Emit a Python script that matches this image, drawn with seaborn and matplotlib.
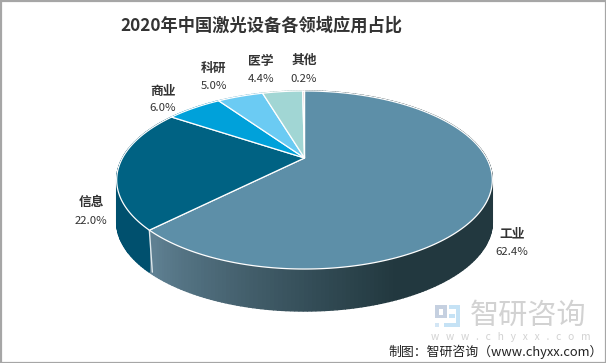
import numpy as np
import matplotlib
matplotlib.use("Agg")
import matplotlib.pyplot as plt
import seaborn as sns
from matplotlib.patches import Rectangle

categories = ["工业", "信息", "商业", "科研", "医学", "其他"]
values = [62.4, 22.0, 6.0, 5.0, 4.4, 0.2]
value_labels = ["62.4%", "22.0%", "6.0%", "5.0%", "4.4%", "0.2%"]
title = "2020年中国激光设备各领域应用占比"
source = "制图：智研咨询（www.chyxx.com）"
top_colors = ["#5d8fa8", "#006283", "#00a1da", "#6bcbf3", "#a1d6d4", "#d9c3c3"]
wall_colors = ["#24404b", "#00506e", "#0083b0", "#55a5c5", "#82aeac", "#b09e9e"]

sns.set_theme(style="white")
plt.rcParams["font.family"] = ["Noto Sans CJK SC", "DejaVu Sans"]
sns.set_palette(top_colors)
palette = sns.color_palette()

W, H = 606, 363
fig = plt.figure(figsize=(W / 100, H / 100), dpi=100)
ax = fig.add_axes([0, 0, 1, 1])
ax.set_xlim(0, W)
ax.set_ylim(H, 0)
ax.axis("off")

CX, CY, A, B, K, DEPTH = 304.5, 158, 182, 83.6, -0.247, 42


def project(theta):
    u, v = np.sin(theta), -np.cos(theta)
    w = 1 + K * v
    return CX + A * u / w, CY + B * v / w


fractions = np.array(values) / np.sum(values)
edges = np.concatenate([[0], np.cumsum(fractions)]) * 2 * np.pi

# side walls
dark = np.array(matplotlib.colors.to_rgb("#22383f"))
light = np.array(matplotlib.colors.to_rgb("#5f8092"))
for i in range(len(values)):
    th = np.linspace(edges[i], edges[i + 1], max(4, int(fractions[i] * 360)))
    for a, b in zip(th[:-1], th[1:]):
        xa, ya = project(a)
        xb, yb = project(b)
        if i == 0:
            t = np.clip(((xa + xb) / 2 - 155) / 240, 0, 1) ** 0.8
            col = light + (dark - light) * t
        else:
            col = matplotlib.colors.to_rgb(wall_colors[i])
        ax.fill([xa, xb, xb, xa], [ya, yb, yb + DEPTH, ya + DEPTH],
                facecolor=col, edgecolor=col, lw=1.0, zorder=2)

# visible wall edge between 工业 and 信息
xe, ye = project(edges[1])
ax.plot([xe, xe + 3], [ye, ye + DEPTH], color="#dfe8ec", lw=1, zorder=3)

# top faces
for i in range(len(values)):
    th = np.linspace(edges[i], edges[i + 1], max(4, int(fractions[i] * 720)))
    xs, ys = project(th)
    ax.fill(np.r_[CX, xs], np.r_[CY, ys], facecolor=palette[i],
            edgecolor="white", lw=0.9, joinstyle="round", zorder=4)

# labels
name_pos = [(512, 234), (91, 202), (163, 91), (214, 68), (261, 62), (304, 60)]
pct_pos = [(512, 252), (91, 221), (163, 108), (214, 86), (261, 79), (304, 79)]
for name, pct, np_, pp in zip(categories, value_labels, name_pos, pct_pos):
    ax.text(*np_, name, ha="center", va="center", fontsize=9.2,
            fontweight="bold", color="#333333", zorder=6)
    ax.text(*pp, pct, ha="center", va="center", fontsize=8.2,
            color="#333333", zorder=6)

ax.text(261, 26, title, ha="center", va="center", fontsize=12.4,
        fontweight="bold", color="#333333")

# watermark logo
for x, y, w, h, c in [(435, 305, 12, 4, "#c5d0e0"), (443, 305, 4, 13, "#c5d0e0"),
                      (435, 315, 11, 3, "#c5d0e0"), (435, 305, 4, 12, "#c5d0e0"),
                      (435, 323, 4, 4, "#d3e6f5"), (449, 305, 11, 4, "#c5e2f5"),
                      (456, 305, 4, 22, "#c5e2f5"), (449, 314, 6, 4, "#c5e2f5"),
                      (444, 323, 16, 4, "#c5e2f5")]:
    ax.add_patch(Rectangle((x, y), w, h, facecolor=c, edgecolor="none", zorder=1))
ax.text(528, 316, "智研咨询", ha="center", va="center", fontsize=21,
        color="#d2d2d2", zorder=1)
ax.text(511, 337, "w   w   w   .   c   h   y   x   x   .   c   o   m", ha="center",
        va="center", fontsize=7.4, color="#d2d2d2", zorder=1)
ax.text(388, 352, source, ha="left", va="center", fontsize=9.3,
        color="#222222", zorder=6)

# outer frame
ax.add_patch(Rectangle((0.5, 0.5), W - 1, H - 1, fill=False,
                       edgecolor="#a6a6a6", lw=1.6, zorder=7))

fig.savefig("out.png", dpi=100, facecolor="white")
